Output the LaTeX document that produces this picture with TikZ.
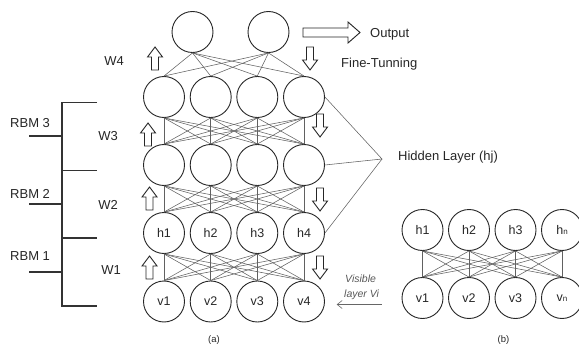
\documentclass[tikz,border=0pt]{standalone}
\usepackage{fontspec}
\setmainfont{Liberation Sans}
\usetikzlibrary{arrows.meta}
\begin{document}
\begin{tikzpicture}[x=1pt,y=-1pt,
  unit/.style={circle,draw=black!85,line width=0.9pt,minimum size=41pt,inner sep=0pt,
    text=black!85,font=\fontsize{12.5}{14}\selectfont},
  wire/.style={draw=black!62,line width=0.55pt},
  bracket/.style={draw=black!80,line width=1.1pt},
  hollow/.style={draw=black!85,line width=0.9pt,line join=miter,fill=white},
  lbl/.style={text=black!85,font=\fontsize{13}{15}\selectfont,inner sep=0pt},
  captext/.style={text=black!85,font=\fontsize{9.5}{11}\selectfont,inner sep=0pt},
  uparrow/.pic={\draw[hollow] (-3.5,0) -- (-3.5,-13) -- (-7.5,-13) -- (0,-23) -- (7.5,-13) -- (3.5,-13) -- (3.5,0) -- cycle;},
  downarrow/.pic={\draw[hollow] (-3.5,0) -- (-3.5,13) -- (-7.5,13) -- (0,23) -- (7.5,13) -- (3.5,13) -- (3.5,0) -- cycle;}
]
\useasboundingbox (0,0) rectangle (579,345);

% ---------- (a) deep belief network ----------
\node[unit] (o1) at (192.5,32) {};
\node[unit] (o2) at (268.5,32) {};
\foreach \i/\x in {1/164,2/210.7,3/257.3,4/304}{
  \node[unit] (a\i) at (\x,97) {};
  \node[unit] (b\i) at (\x,165) {};
  \node[unit] (h\i) at (\x,233) {h\i};
  \node[unit] (v\i) at (\x,301.5) {v\i};
}

% fully connected layers
\foreach \i in {1,2}{
  \foreach \j in {1,...,4}{ \draw[wire] (o\i.south) -- (a\j.north); }
}
\foreach \i in {1,...,4}{
  \foreach \j in {1,...,4}{
    \draw[wire] (a\i.south) -- (b\j.north);
    \draw[wire] (b\i.south) -- (h\j.north);
    \draw[wire] (h\i.south) -- (v\j.north);
  }
}

% hidden layer pointer
\coordinate (hj) at (382,159);
\draw[wire] (a4.east) -- (hj) -- (b4.east);
\draw[wire] (h4.east) -- (hj);
\node[lbl,anchor=base west] (hjlabel) at (398,160.5) {Hidden Layer (hj)};

% output and fine-tuning
\draw[hollow] (303,28) -- (348,28) -- (348,22) -- (360,32.5) -- (348,43) -- (348,37) -- (303,37) -- cycle;
\node[lbl,anchor=base west] (outlabel) at (370,37.7) {Output};
\node[lbl,anchor=base west] (ftlabel) at (341,67.3) {Fine-Tunning};

% weight arrows
\pic at (155,70) {uparrow};
\pic at (148,146) {uparrow};
\pic at (149.5,210) {uparrow};
\pic at (149.5,279) {uparrow};
\pic at (310,47) {downarrow};
\pic at (320,114) {downarrow};
\pic at (320,188) {downarrow};
\pic at (320,256) {downarrow};

\node[lbl,anchor=base] (w4) at (114,66) {W4};
\node[lbl,anchor=base] (w3) at (108,140) {W3};
\node[lbl,anchor=base] (w2) at (108,209) {W2};
\node[lbl,anchor=base] (w1) at (111,274) {W1};

% RBM bracket
\draw[bracket] (97,102.5) -- (62,102.5) -- (62,306) -- (97,306);
\draw[bracket] (62,170.5) -- (97,170.5);
\draw[bracket] (62,238) -- (97,238);
\draw[bracket] (29,136) -- (62,136);
\draw[bracket] (29,204) -- (62,204);
\draw[bracket] (29,272) -- (62,272);
\node[lbl,anchor=base west] (rbm3) at (10,128) {RBM 3};
\node[lbl,anchor=base west] (rbm2) at (10,198) {RBM 2};
\node[lbl,anchor=base west] (rbm1) at (10,260) {RBM 1};

% visible layer pointer
\node[anchor=base west,inner sep=0pt,text=black!65,font=\itshape\fontsize{10.5}{12}\selectfont] (vis1) at (345,282.7) {Visible};
\node[anchor=base west,inner sep=0pt,text=black!65,font=\itshape\fontsize{10.5}{12}\selectfont] (vis2) at (344,297.7) {layer Vi};
\coordinate (visfrom) at (381.7,304.5);
\coordinate (visto) at (336.7,304.5);
\draw[draw=black!60,line width=0.6pt,-{Straight Barb[length=5pt,width=8pt]}] (visfrom) -- (visto);

\node[captext] (capa) at (214,340.5) {(a)};

% ---------- (b) single RBM ----------
\foreach \i/\x/\t in {1/422.5/1,2/469/2,3/515.5/3}{
  \node[unit] (bh\i) at (\x,230) {h\t};
  \node[unit] (bv\i) at (\x,298) {v\t};
}
\node[unit] (bh4) at (562,230) {h{\fontsize{8}{8}\selectfont n}};
\node[unit] (bv4) at (562,298) {v{\fontsize{8}{8}\selectfont n}};
\foreach \i in {1,...,4}{
  \foreach \j in {1,...,4}{ \draw[wire] (bh\i.south) -- (bv\j.north); }
}
\node[captext] (capb) at (503.5,340.5) {(b)};
\end{tikzpicture}
\end{document}
